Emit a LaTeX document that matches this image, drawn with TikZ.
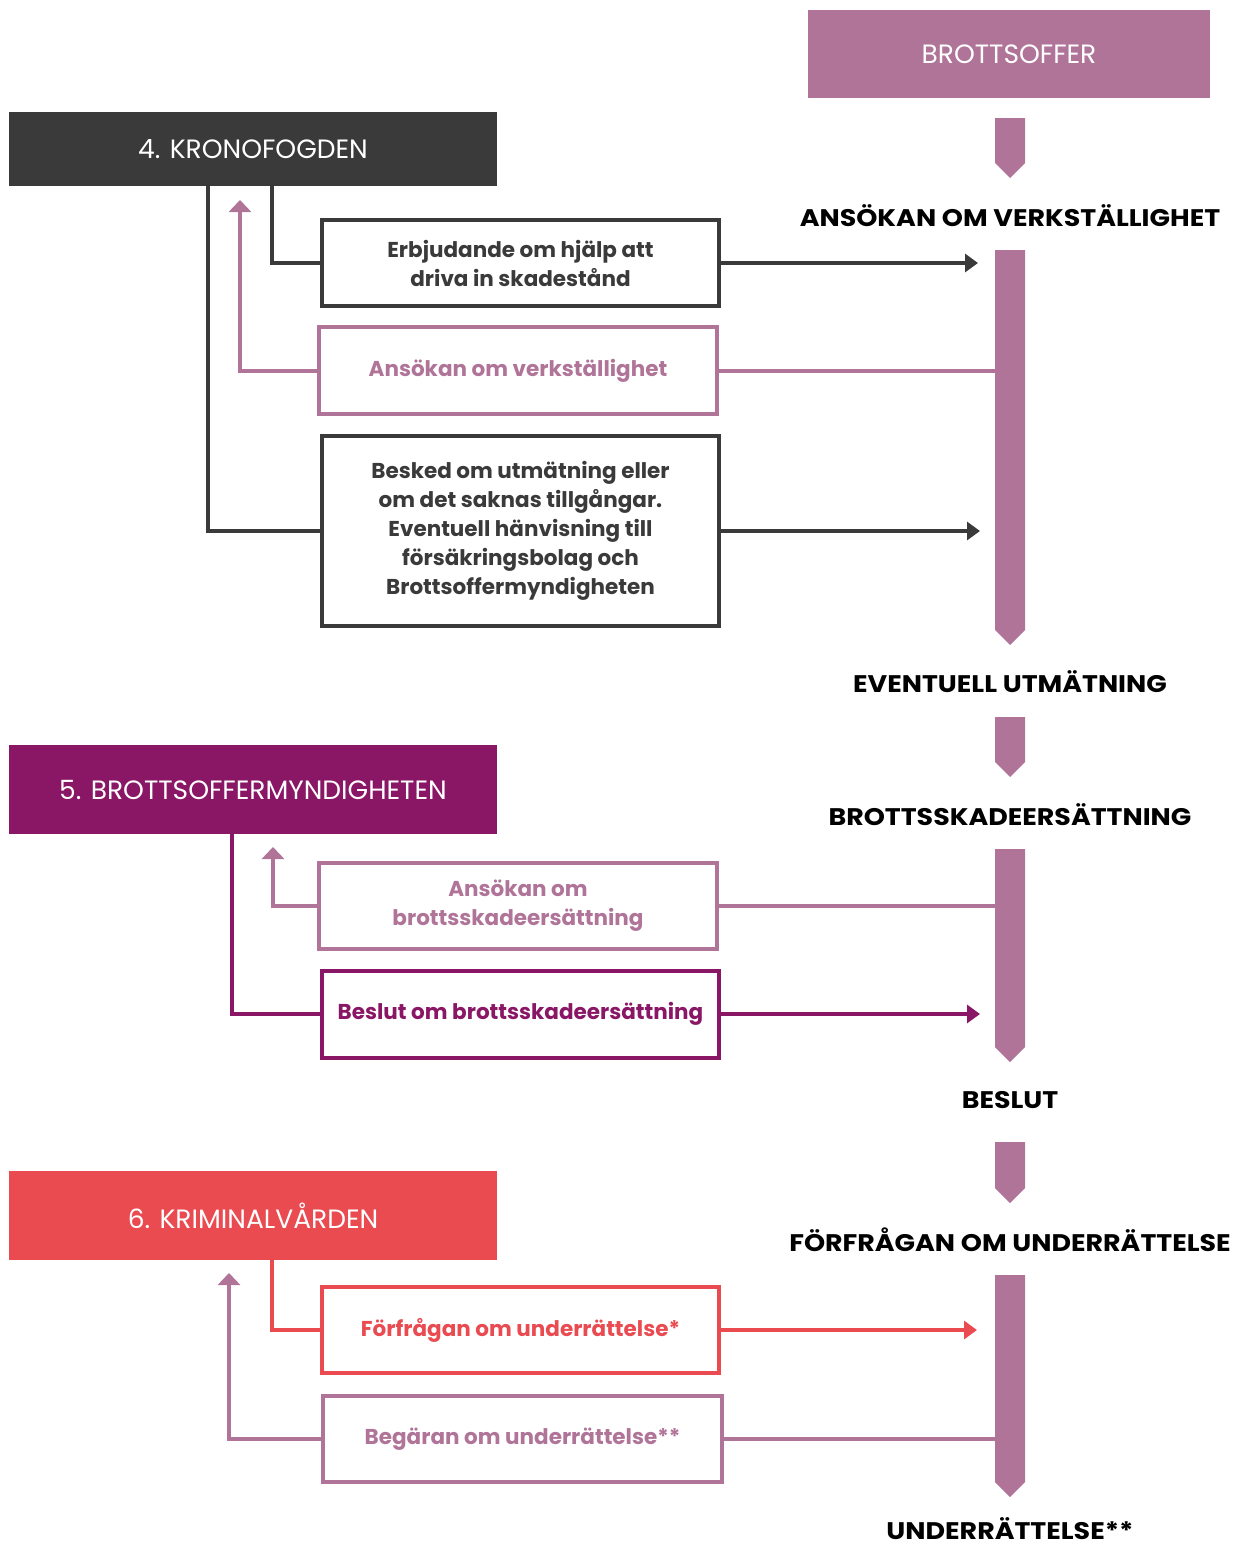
\documentclass[tikz,border=0pt]{standalone}
\usepackage{fontspec}
\setmainfont{Poppins}
\newfontfamily\labfont[FakeStretch=1.12]{Poppins}
\usetikzlibrary{arrows.meta,calc}
\definecolor{pinkc}{HTML}{B07499}
\definecolor{darkc}{HTML}{3A3A3A}
\definecolor{purpc}{HTML}{8A1766}
\definecolor{redc}{HTML}{E94B51}
\tikzset{
  header/.style={inner sep=0pt,text=white,font=\fontsize{26.5}{30}\selectfont},
  box/.style={draw,line width=4pt,fill=white,inner sep=0pt,align=center,font=\bfseries\fontsize{21.5}{29}\selectfont},
  lab/.style={inner sep=0pt,font=\labfont\bfseries\fontsize{24}{26}\selectfont,text=black},
  conn/.style={line width=4pt},
  rarrow/.style={line width=4pt,-{Triangle[length=13pt,width=18pt]}},
  uarrow/.style={line width=4pt,-{Triangle[length=12pt,width=22pt]}},
}
\newcommand{\pinkbar}[2]{\fill[pinkc] (995,#1) -- (1025,#1) -- (1025,#2-15) -- (1010,#2) -- (995,#2-15) -- cycle;}
\begin{document}
\begin{tikzpicture}[x=1pt,y=-1pt]
\useasboundingbox (0,0) rectangle (1255,1547);
% headers
\node[header,fill=pinkc,minimum width=402pt,minimum height=88pt] (h0) at (1009,54) {BROTTSOFFER};
\node[header,fill=darkc,minimum width=488pt,minimum height=74pt] (h4) at (253,149) {4. KRONOFOGDEN};
\node[header,fill=purpc,minimum width=488pt,minimum height=89pt] (h5) at (253,789.5) {5. BROTTSOFFERMYNDIGHETEN};
\node[header,fill=redc,minimum width=488pt,minimum height=89pt] (h6) at (253,1215.5) {6. KRIMINALVÅRDEN};
% bars
\pinkbar{118}{178}
\pinkbar{250}{645}
\pinkbar{717}{777}
\pinkbar{849}{1062}
\pinkbar{1142}{1203}
\pinkbar{1275}{1497}
\coordinate (bar1) at (995,250);
\coordinate (bar3) at (995,849);
\coordinate (bar4) at (995,1275);
% right labels
\node[lab] (l1) at (1010,216) {ANSÖKAN OM VERKSTÄLLIGHET};
\node[lab] (l2) at (1010,682) {EVENTUELL UTMÄTNING};
\node[lab] (l3) at (1010,815) {BROTTSSKADEERSÄTTNING};
\node[lab] (l4) at (1010,1100) {BESLUT};
\node[lab] (l5) at (1010,1240) {FÖRFRÅGAN OM UNDERRÄTTELSE};
\node[lab] (l6) at (1010,1529) {UNDERRÄTTELSE**};
% boxes
\node[box,draw=darkc,text=darkc,minimum width=397pt,minimum height=86pt] (b1) at (520.5,263) {Erbjudande om hjälp att\\driva in skadestånd};
\node[box,draw=pinkc,text=pinkc,minimum width=398pt,minimum height=87pt] (b2) at (518,370.5) {Ansökan om verkställighet};
\node[box,draw=darkc,text=darkc,minimum width=397pt,minimum height=190pt] (b3) at (520.5,531) {Besked om utmätning eller\\om det saknas tillgångar.\\Eventuell hänvisning till\\försäkringsbolag och\\Brottsoffermyndigheten};
\node[box,draw=pinkc,text=pinkc,minimum width=398pt,minimum height=86pt] (b4) at (518,906) {Ansökan om\\brottsskadeersättning};
\node[box,draw=purpc,text=purpc,minimum width=397pt,minimum height=87pt] (b5) at (520.5,1014) {Beslut om brottsskadeersättning};
\node[box,draw=redc,text=redc,minimum width=397pt,minimum height=86pt] (b6) at (520.5,1330) {Förfrågan om underrättelse*};
\node[box,draw=pinkc,text=pinkc,minimum width=399pt,minimum height=86pt] (b7) at (522.5,1439) {Begäran om underrättelse**};
% free ends
\coordinate (u1) at (240,200);
\coordinate (u2) at (273,847);
\coordinate (u3) at (229,1273);
% section 4 connectors
\draw[conn,darkc] ([xshift=263pt]h4.south west) |- (b1.west);
\draw[conn,darkc] ([xshift=199pt]h4.south west) |- (b3.west);
\draw[rarrow,darkc] (b1.east) -- ($(b1.east -| bar1)+(-17,0)$);
\draw[rarrow,darkc] (b3.east) -- ($(b3.east -| bar1)+(-15,0)$);
\draw[conn,pinkc] (b2.east -| bar1) -- (b2.east);
\draw[uarrow,pinkc] (b2.west) -| (u1);
% section 5
\draw[conn,pinkc] (b4.east -| bar3) -- (b4.east);
\draw[uarrow,pinkc] (b4.west) -| (u2);
\draw[conn,purpc] ([xshift=223pt]h5.south west) |- (b5.west);
\draw[rarrow,purpc] (b5.east) -- ($(b5.east -| bar3)+(-15,0)$);
% section 6
\draw[conn,redc] ([xshift=263pt]h6.south west) |- (b6.west);
\draw[rarrow,redc] (b6.east) -- ($(b6.east -| bar4)+(-18,0)$);
\draw[conn,pinkc] (b7.east -| bar4) -- (b7.east);
\draw[uarrow,pinkc] (b7.west) -| (u3);
\end{tikzpicture}
\end{document}
